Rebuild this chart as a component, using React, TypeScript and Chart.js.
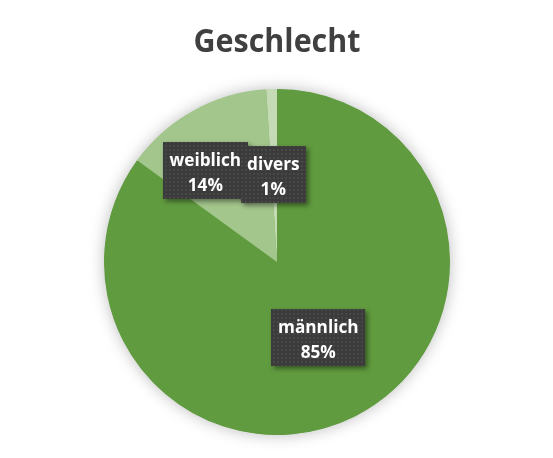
import React, { useEffect, useRef } from "react";
import { Chart, registerables } from "chart.js";

Chart.register(...registerables);

const TITLE = "Geschlecht";
const categories = ["männlich", "weiblich", "divers"];
const percentValues = [85, 14, 1];
const sliceColors = ["#609b3f", "#a3c68c", "#c5dbb5"];
// label nudges (px) relative to the slice mid-point at half radius
const labelNudgeX = [2, -30, -1];
const labelNudgeY = [-2, -16, -1.5];

function makePattern(ctx: CanvasRenderingContext2D) {
  const c = document.createElement("canvas");
  c.width = 4;
  c.height = 4;
  const p = c.getContext("2d")!;
  p.fillStyle = "#3b3b3b";
  p.fillRect(0, 0, 4, 4);
  p.fillStyle = "#484848";
  p.fillRect(1, 1, 2, 2);
  return ctx.createPattern(c, "repeat");
}

const titlePlugin = {
  id: "titleText",
  afterDraw(chart: any) {
    const ctx = chart.ctx as CanvasRenderingContext2D;
    ctx.save();
    ctx.fillStyle = "#404040";
    ctx.font = "bold 32px 'Open Sans', sans-serif";
    ctx.textAlign = "center";
    ctx.textBaseline = "alphabetic";
    const w = ctx.measureText(TITLE).width;
    const target = 167;
    ctx.translate(277, 52);
    ctx.scale(target / w, 1);
    ctx.fillText(TITLE, 0, 0);
    ctx.restore();
  },
};

const shadowPlugin = {
  id: "pieShadow",
  beforeDatasetsDraw(chart: any) {
    const meta = chart.getDatasetMeta(0);
    const arc = meta.data[0];
    if (!arc) return;
    const { x, y, outerRadius } = arc.getProps(["x", "y", "outerRadius"], true);
    const ctx = chart.ctx as CanvasRenderingContext2D;
    ctx.save();
    ctx.shadowColor = "rgba(0,0,0,0.28)";
    ctx.shadowBlur = 16;
    ctx.shadowOffsetX = 0;
    ctx.shadowOffsetY = 0;
    ctx.fillStyle = sliceColors[0];
    ctx.beginPath();
    ctx.arc(x, y, outerRadius - 0.5, 0, Math.PI * 2);
    ctx.fill();
    ctx.restore();
  },
};

const labelPlugin = {
  id: "boxLabels",
  afterDatasetsDraw(chart: any) {
    const ctx = chart.ctx as CanvasRenderingContext2D;
    const meta = chart.getDatasetMeta(0);
    const pattern = makePattern(ctx);
    const sx = 0.93;
    ctx.save();
    ctx.font = "bold 18.5px 'Open Sans', sans-serif";
    ctx.textAlign = "center";
    ctx.textBaseline = "alphabetic";
    meta.data.forEach((arc: any, i: number) => {
      const { x, y, startAngle, endAngle, outerRadius } = arc.getProps(
        ["x", "y", "startAngle", "endAngle", "outerRadius"],
        true
      );
      const mid = (startAngle + endAngle) / 2;
      const cx = x + Math.cos(mid) * outerRadius * 0.5 + labelNudgeX[i];
      const cy = y + Math.sin(mid) * outerRadius * 0.5 + labelNudgeY[i];
      const line1 = categories[i];
      const line2 = percentValues[i] + "%";
      const tw =
        Math.max(ctx.measureText(line1).width, ctx.measureText(line2).width) * sx;
      const bw = tw + 13;
      const bh = 57;
      ctx.save();
      ctx.shadowColor = "rgba(0,0,0,0.45)";
      ctx.shadowBlur = 5;
      ctx.shadowOffsetX = 2.5;
      ctx.shadowOffsetY = 2.5;
      ctx.fillStyle = pattern || "#3d3d3d";
      ctx.fillRect(Math.round(cx - bw / 2), Math.round(cy - bh / 2), Math.round(bw), bh);
      ctx.restore();
      ctx.save();
      ctx.translate(cx, cy);
      ctx.scale(sx, 1);
      ctx.fillStyle = "#ffffff";
      ctx.fillText(line1, 0, -4);
      ctx.fillText(line2, 0, 21);
      ctx.restore();
    });
    ctx.restore();
  },
};

export default function App() {
  const ref = useRef<HTMLCanvasElement | null>(null);
  useEffect(() => {
    document.body.style.margin = "0";
    const chart = new Chart(ref.current!, {
      type: "pie",
      data: {
        labels: categories,
        datasets: [
          {
            data: percentValues,
            backgroundColor: sliceColors,
            borderWidth: 0,
          },
        ],
      },
      options: {
        responsive: false,
        animation: false,
        layout: { padding: { left: 104, right: 103, top: 89, bottom: 23 } },
        plugins: {
          legend: { display: false },
          title: { display: false },
          tooltip: { enabled: false },
        },
      },
      plugins: [shadowPlugin, labelPlugin, titlePlugin],
    });
    return () => chart.destroy();
  }, []);
  return (
    <div style={{ width: 553, height: 458, background: "#ffffff" }}>
      <canvas ref={ref} width={553} height={458} style={{ display: "block" }} />
    </div>
  );
}
